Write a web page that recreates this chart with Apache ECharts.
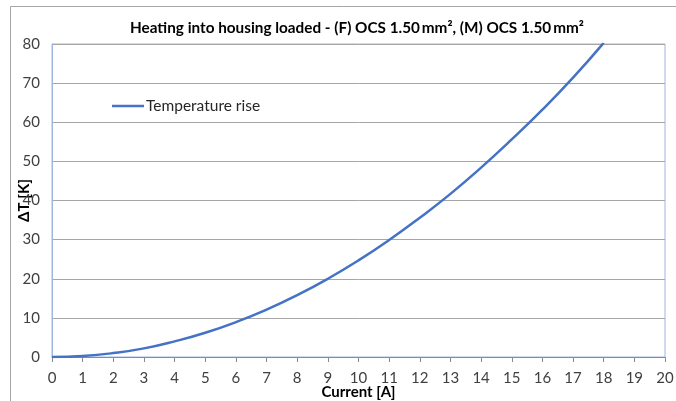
<!DOCTYPE html>
<html><head><meta charset="utf-8">
<script src="https://cdn.jsdelivr.net/npm/echarts@6/dist/echarts.min.js"></script>
<style>html,body{margin:0;padding:0;background:#fff}#c{width:676px;height:401px}</style>
</head><body><div id="c"></div>
<script>
var titleText = 'Heating into housing loaded - (F) OCS 1.50\u2009mm\u00B2, (M) OCS 1.50\u2009mm\u00B2';
var seriesName = 'Temperature rise';
var currentA = [0,1,2,3,4,5,6,7,8,9,10,11,12,13,14,15,16,17,18];
var deltaT = [0,0.25,1.0,2.2,4.0,6.2,8.9,12.1,15.8,20.0,24.7,29.9,35.6,41.7,48.4,55.6,63.2,71.4,80.3];
var xName = 'Current [A]';
var yName = '\u0394T [K]';

var font = 'Lato, "Open Sans", sans-serif';
var chart = echarts.init(document.getElementById('c'));
chart.setOption({
  animation: false,
  backgroundColor: '#fff',
  title: {
    text: titleText, left: 125, top: 16,
    textStyle: {fontFamily: font, fontSize: 15.3, fontWeight: 'bold', color: '#000'}
  },
  graphic: [{type:'rect', shape:{x:10.5,y:6.5,width:800,height:600}, style:{fill:'none', stroke:'#a6a6a6', lineWidth:1}, silent:true}],
  legend: {
    left: 107, top: 93, icon: 'rect', itemWidth: 32, itemHeight: 2.5, itemGap: 4,
    textStyle: {fontFamily: font, fontSize: 15.5, color: '#262626', padding:[0,0,0,-3]},
    data: [seriesName]
  },
  grid: {left: 52, right: 11, top: 44, bottom: 44, show: true, borderColor: '#9fb6e3', borderWidth: 1, containLabel: false, outerBoundsMode: 'none'},
  xAxis: {
    type: 'value', min: 0, max: 20, interval: 1,
    name: xName, nameLocation: 'middle', nameGap: 28, nameMoveOverlap: false,
    nameTextStyle: {fontFamily: font, fontSize: 15, fontWeight: 'bold', color: '#000'},
    axisLine: {show: true, lineStyle: {color: '#8c8c8c'}},
    axisTick: {show: true, length: 5, lineStyle: {color: '#8c8c8c'}},
    axisLabel: {fontFamily: font, fontSize: 15, color: '#404040', margin: 14},
    splitLine: {show: false}
  },
  yAxis: {
    type: 'value', min: 0, max: 80, interval: 10,
    name: yName, nameLocation: 'middle', nameGap: 20, nameRotate: 90, nameMoveOverlap: false,
    nameTextStyle: {fontFamily: font, fontSize: 15, fontWeight: 'bold', color: '#000'},
    axisLine: {show: true, lineStyle: {color: '#9fb6e3'}},
    axisTick: {show: false},
    axisLabel: {fontFamily: font, fontSize: 15, color: '#404040', margin: 12},
    splitLine: {show: true, lineStyle: {color: '#a6a6a6', width: 1}}
  },
  series: [{
    name: seriesName, type: 'line', smooth: true, showSymbol: false, clip: true,
    data: currentA.map(function(x,i){return [x, deltaT[i]];}),
    lineStyle: {color: '#4472C4', width: 2.5},
    itemStyle: {color: '#4472C4'}
  }]
});
</script></body></html>
